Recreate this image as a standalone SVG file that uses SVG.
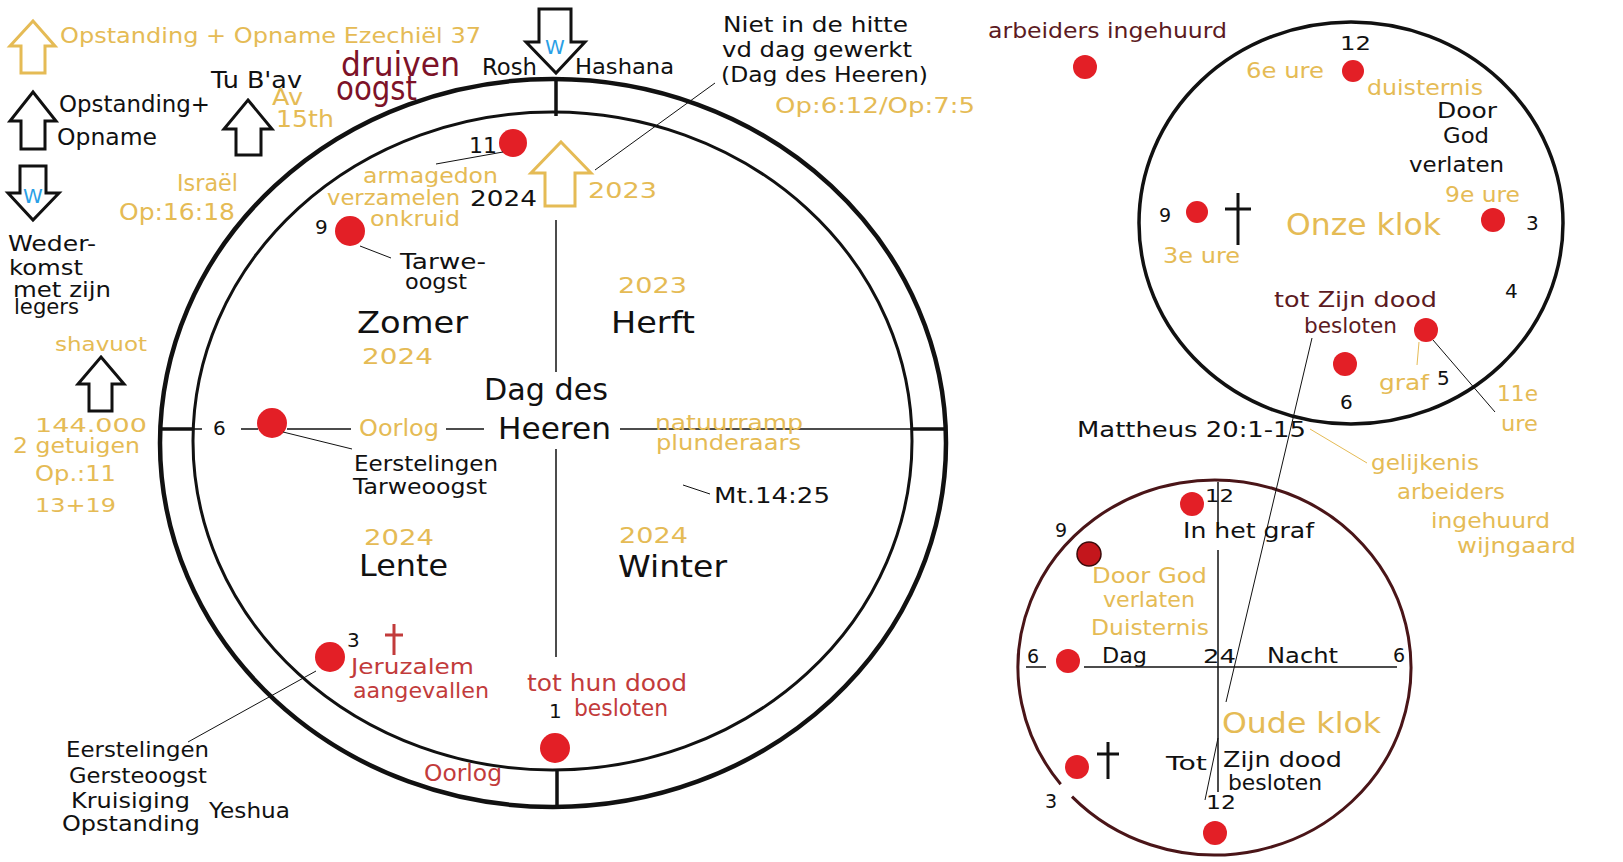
<svg xmlns="http://www.w3.org/2000/svg" width="1623" height="862" viewBox="0 0 1623 862">
<style>
text{font-family:"DejaVu Sans","Liberation Sans",sans-serif;font-size:22px;}
.k{fill:#111;}
.y{fill:#e5bb55;}
.m{fill:#7d1228;}
.m2{fill:#5c1a22;}
.r{fill:#c23b3b;}
.b{fill:#2a9fe6;}
.big{font-size:30px;}
.dot{fill:#e31f26;}
.thin{stroke:#111;stroke-width:1;fill:none;}
.ythin{stroke:#e5bb55;stroke-width:1;fill:none;}
.axis{stroke:#111;stroke-width:1.5;fill:none;}
.tick{stroke:#111;stroke-width:3.5;fill:none;}
.arrK{fill:#fff;stroke:#111;stroke-width:3;stroke-linejoin:miter;}
.arrY{fill:#fff;stroke:#e5bb55;stroke-width:3;stroke-linejoin:miter;}
.cross{stroke:#111;stroke-width:3;fill:none;}
.rcross{stroke:#c23b3b;stroke-width:3;fill:none;}
</style>
<rect width="1623" height="862" fill="#fff"/>

<!-- legend top-left -->
<g id="legend-ezechiel">
<polygon class="arrY" points="33,21 55,46 45,46 45,73 21,73 21,46 10,46"/>
<text class="y" x="60" y="43" textLength="421" lengthAdjust="spacingAndGlyphs">Opstanding + Opname Ezechiël 37</text>
</g>
<g id="legend-opstanding">
<polygon class="arrK" points="33,92 56,121 45,121 45,149 21,149 21,121 10,121"/>
<text class="k" x="59" y="112" textLength="151" lengthAdjust="spacingAndGlyphs" style="font-size:23px">Opstanding+</text>
<text class="k" x="57" y="145" textLength="100" lengthAdjust="spacingAndGlyphs" style="font-size:23px">Opname</text>
</g>
<g id="legend-wederkomst">
<polygon class="arrK" points="20,166 46,166 46,193 59,193 33,220 8,193 20,193"/>
<text class="b" x="33" y="203" text-anchor="middle" style="font-size:20px">W</text>
<text class="k" x="8" y="251" textLength="88" lengthAdjust="spacingAndGlyphs">Weder-</text>
<text class="k" x="9" y="275" textLength="74" lengthAdjust="spacingAndGlyphs">komst</text>
<text class="k" x="13" y="297" textLength="98" lengthAdjust="spacingAndGlyphs">met zijn</text>
<text class="k" x="14" y="314" textLength="65" lengthAdjust="spacingAndGlyphs">legers</text>
</g>
<g id="tubav">
<text class="k" x="211" y="88" textLength="91" lengthAdjust="spacingAndGlyphs" style="font-size:23px">Tu B'av</text>
<polygon class="arrK" points="248,100 272,129 261,129 261,155 236,155 236,129 224,129"/>
<text class="y" x="272" y="105" textLength="31" lengthAdjust="spacingAndGlyphs" style="font-size:23px">Av</text>
<text class="y" x="276" y="127" textLength="58" lengthAdjust="spacingAndGlyphs" style="font-size:23px">15th</text>
</g>
<g id="druiven">
<text class="m" x="341" y="76" textLength="119" lengthAdjust="spacingAndGlyphs" style="font-size:33px">druiven</text>
<text class="m" x="336" y="100" textLength="81" lengthAdjust="spacingAndGlyphs" style="font-size:33px">oogst</text>
</g>
<g id="israel">
<text class="y" x="177" y="191" textLength="61" lengthAdjust="spacingAndGlyphs" style="font-size:23px">Israël</text>
<text class="y" x="119" y="220" textLength="116" lengthAdjust="spacingAndGlyphs" style="font-size:23px">Op:16:18</text>
</g>
<g id="shavuot">
<text class="y" x="55" y="351" textLength="92" lengthAdjust="spacingAndGlyphs" style="font-size:20px">shavuot</text>
<polygon class="arrK" points="101,357 124,384 112,384 112,411 89,411 89,384 78,384"/>
<text class="y" x="35" y="432" textLength="112" lengthAdjust="spacingAndGlyphs" style="font-size:20px">144.000</text>
<text class="y" x="13" y="453" textLength="127" lengthAdjust="spacingAndGlyphs">2 getuigen</text>
<text class="y" x="35" y="481" textLength="81" lengthAdjust="spacingAndGlyphs">Op.:11</text>
<text class="y" x="35" y="512" textLength="81" lengthAdjust="spacingAndGlyphs" style="font-size:20px">13+19</text>
</g>

<!-- big year clock -->
<g id="year-clock">
<ellipse cx="553" cy="443" rx="393" ry="364" fill="none" stroke="#111" stroke-width="4.5"/>
<ellipse cx="552.5" cy="441" rx="359.5" ry="329" fill="none" stroke="#111" stroke-width="3"/>
<line class="tick" x1="556" y1="79" x2="556" y2="116"/>
<line class="tick" x1="557" y1="770" x2="557" y2="807"/>
<line class="tick" x1="160" y1="429" x2="193" y2="429"/>
<line class="tick" x1="912" y1="429" x2="946" y2="429"/>
<line class="axis" x1="556" y1="220" x2="556" y2="372"/>
<line class="axis" x1="556" y1="449" x2="556" y2="657"/>
<line class="axis" x1="193" y1="429" x2="202" y2="429"/>
<line class="axis" x1="241" y1="429" x2="258" y2="429"/>
<line class="axis" x1="287" y1="429" x2="351" y2="429"/>
<line class="axis" x1="446" y1="429" x2="484" y2="429"/>
<line class="axis" x1="620" y1="429" x2="912" y2="429"/>
</g>
<g id="rosh-hashana">
<polygon class="arrK" points="539,9 571,9 571,42 585,42 556,73 526,42 539,42"/>
<text class="b" x="555" y="54" text-anchor="middle" style="font-size:20px">W</text>
<text class="k" x="482" y="75" textLength="55" lengthAdjust="spacingAndGlyphs" style="font-size:23px">Rosh</text>
<text class="k" x="575" y="74" textLength="99" lengthAdjust="spacingAndGlyphs">Hashana</text>
</g>
<g id="opname-2023">
<polygon class="arrY" points="561,142 591,173 575,173 575,206 545,206 545,173 531,173"/>
<text class="k" x="470" y="206" textLength="67" lengthAdjust="spacingAndGlyphs">2024</text>
<text class="y" x="588" y="198" textLength="69" lengthAdjust="spacingAndGlyphs">2023</text>
</g>
<g id="niet-in-de-hitte">
<text class="k" x="723" y="32" textLength="185" lengthAdjust="spacingAndGlyphs">Niet in de hitte</text>
<text class="k" x="722" y="57" textLength="190" lengthAdjust="spacingAndGlyphs">vd dag gewerkt</text>
<text class="k" x="721" y="82" textLength="207" lengthAdjust="spacingAndGlyphs">(Dag des Heeren)</text>
<text class="y" x="775" y="113" textLength="200" lengthAdjust="spacingAndGlyphs">Op:6:12/Op:7:5</text>
</g>
<g id="point-11">
<circle class="dot" cx="513" cy="143" r="14"/>
<text class="k" x="469" y="153" textLength="28" lengthAdjust="spacingAndGlyphs" style="font-size:21px">11</text>
<text class="y" x="363" y="183" textLength="135" lengthAdjust="spacingAndGlyphs">armagedon</text>
<text class="y" x="327" y="205" textLength="133" lengthAdjust="spacingAndGlyphs">verzamelen</text>
<text class="y" x="370" y="226" textLength="90" lengthAdjust="spacingAndGlyphs">onkruid</text>
</g>
<g id="point-9">
<circle class="dot" cx="350" cy="231" r="15"/>
<text class="k" x="315" y="234" style="font-size:20px">9</text>
<text class="k" x="400" y="269" textLength="86" lengthAdjust="spacingAndGlyphs">Tarwe-</text>
<text class="k" x="405" y="289" textLength="62" lengthAdjust="spacingAndGlyphs">oogst</text>
</g>
<g id="zomer">
<text class="k big" x="357" y="333" textLength="111" lengthAdjust="spacingAndGlyphs">Zomer</text>
<text class="y" x="362" y="364" textLength="71" lengthAdjust="spacingAndGlyphs" style="font-size:21px">2024</text>
</g>
<g id="herft">
<text class="y" x="618" y="293" textLength="69" lengthAdjust="spacingAndGlyphs" style="font-size:21px">2023</text>
<text class="k big" x="611" y="333" textLength="84" lengthAdjust="spacingAndGlyphs">Herft</text>
</g>
<g id="dag-des-heeren">
<text class="k big" x="484" y="400" textLength="124" lengthAdjust="spacingAndGlyphs">Dag des</text>
<text class="k big" x="498" y="439" textLength="113" lengthAdjust="spacingAndGlyphs">Heeren</text>
</g>
<g id="point-6">
<circle class="dot" cx="272" cy="423" r="15"/>
<text class="k" x="213" y="435" style="font-size:20px">6</text>
<text class="y" x="359" y="436" textLength="80" lengthAdjust="spacingAndGlyphs" style="font-size:23px">Oorlog</text>
<text class="k" x="354" y="471" textLength="144" lengthAdjust="spacingAndGlyphs" style="font-size:21px">Eerstelingen</text>
<text class="k" x="353" y="494" textLength="134" lengthAdjust="spacingAndGlyphs" style="font-size:21px">Tarweoogst</text>
</g>
<g id="natuurramp">
<text class="y" x="655" y="430" textLength="148" lengthAdjust="spacingAndGlyphs">natuurramp</text>
<text class="y" x="656" y="450" textLength="145" lengthAdjust="spacingAndGlyphs">plunderaars</text>
</g>
<g id="mt-14-25">
<text class="k" x="714" y="503" textLength="116" lengthAdjust="spacingAndGlyphs" style="font-size:21px">Mt.14:25</text>
</g>
<g id="winter">
<text class="y" x="619" y="543" textLength="69" lengthAdjust="spacingAndGlyphs" style="font-size:21px">2024</text>
<text class="k big" x="618" y="577" textLength="109" lengthAdjust="spacingAndGlyphs">Winter</text>
</g>
<g id="lente">
<text class="y" x="364" y="545" textLength="70" lengthAdjust="spacingAndGlyphs" style="font-size:21px">2024</text>
<text class="k big" x="359" y="576" textLength="89" lengthAdjust="spacingAndGlyphs">Lente</text>
</g>
<g id="point-1">
<circle class="dot" cx="555" cy="748" r="15"/>
<text class="r" x="527" y="691" textLength="160" lengthAdjust="spacingAndGlyphs" style="font-size:23px">tot hun dood</text>
<text class="k" x="549" y="718" style="font-size:20px">1</text>
<text class="r" x="574" y="716" textLength="94" lengthAdjust="spacingAndGlyphs" style="font-size:23px">besloten</text>
<text class="r" x="424" y="781" textLength="78" lengthAdjust="spacingAndGlyphs" style="font-size:23px">Oorlog</text>
</g>
<g id="point-3">
<circle class="dot" cx="330" cy="657" r="15"/>
<text class="k" x="347" y="647" style="font-size:20px">3</text>
<path class="rcross" d="M394 624V655M385 635H403"/>
<text class="r" x="351" y="674" textLength="123" lengthAdjust="spacingAndGlyphs">Jeruzalem</text>
<text class="r" x="353" y="698" textLength="136" lengthAdjust="spacingAndGlyphs">aangevallen</text>
</g>
<g id="eerstelingen-gerst">
<text class="k" x="66" y="757" textLength="143" lengthAdjust="spacingAndGlyphs">Eerstelingen</text>
<text class="k" x="69" y="783" textLength="138" lengthAdjust="spacingAndGlyphs">Gersteoogst</text>
<text class="k" x="71" y="808" textLength="119" lengthAdjust="spacingAndGlyphs">Kruisiging</text>
<text class="k" x="62" y="831" textLength="138" lengthAdjust="spacingAndGlyphs">Opstanding</text>
<text class="k" x="209" y="818" textLength="81" lengthAdjust="spacingAndGlyphs">Yeshua</text>
</g>

<!-- right side -->
<g id="arbeiders-ingehuurd">
<text class="m2" x="988" y="38" textLength="239" lengthAdjust="spacingAndGlyphs">arbeiders ingehuurd</text>
<circle class="dot" cx="1085" cy="67" r="12"/>
</g>
<g id="onze-klok">
<ellipse cx="1351" cy="223" rx="212" ry="201" fill="none" stroke="#111" stroke-width="3.5"/>
<text class="k" x="1340" y="50" textLength="31" lengthAdjust="spacingAndGlyphs" style="font-size:20px">12</text>
<circle class="dot" cx="1353" cy="71" r="11"/>
<text class="y" x="1246" y="78" textLength="78" lengthAdjust="spacingAndGlyphs" style="font-size:21px">6e ure</text>
<text class="y" x="1367" y="95" textLength="116" lengthAdjust="spacingAndGlyphs" style="font-size:21px">duisternis</text>
<text class="k" x="1437" y="118" textLength="60" lengthAdjust="spacingAndGlyphs">Door</text>
<text class="k" x="1443" y="143" textLength="46" lengthAdjust="spacingAndGlyphs">God</text>
<text class="k" x="1409" y="172" textLength="95" lengthAdjust="spacingAndGlyphs">verlaten</text>
<text class="y" x="1445" y="202" textLength="75" lengthAdjust="spacingAndGlyphs" style="font-size:21px">9e ure</text>
<text class="k" x="1159" y="222" style="font-size:19px">9</text>
<circle class="dot" cx="1197" cy="212" r="11"/>
<path class="cross" d="M1238 193V245M1225 209H1251"/>
<text class="y big" x="1286" y="235" textLength="155" lengthAdjust="spacingAndGlyphs">Onze klok</text>
<circle class="dot" cx="1493" cy="220" r="12"/>
<text class="k" x="1526" y="230" style="font-size:20px">3</text>
<text class="y" x="1163" y="263" textLength="77" lengthAdjust="spacingAndGlyphs" style="font-size:21px">3e ure</text>
<text class="k" x="1505" y="298" style="font-size:20px">4</text>
<text class="m2" x="1274" y="307" textLength="163" lengthAdjust="spacingAndGlyphs">tot Zijn dood</text>
<text class="m2" x="1304" y="333" textLength="93" lengthAdjust="spacingAndGlyphs">besloten</text>
<circle class="dot" cx="1426" cy="330" r="12"/>
<circle class="dot" cx="1345" cy="364" r="12"/>
<text class="y" x="1379" y="390" textLength="50" lengthAdjust="spacingAndGlyphs">graf</text>
<text class="k" x="1437" y="385" style="font-size:20px">5</text>
<text class="k" x="1340" y="409" style="font-size:20px">6</text>
<text class="y" x="1497" y="401" textLength="41" lengthAdjust="spacingAndGlyphs" style="font-size:21px">11e</text>
<text class="y" x="1501" y="431" textLength="37" lengthAdjust="spacingAndGlyphs" style="font-size:21px">ure</text>
</g>
<g id="mattheus">
<text class="k" x="1077" y="437" textLength="229" lengthAdjust="spacingAndGlyphs">Mattheus 20:1-15</text>
</g>
<g id="gelijkenis">
<text class="y" x="1371" y="470" textLength="108" lengthAdjust="spacingAndGlyphs">gelijkenis</text>
<text class="y" x="1397" y="499" textLength="108" lengthAdjust="spacingAndGlyphs">arbeiders</text>
<text class="y" x="1431" y="528" textLength="119" lengthAdjust="spacingAndGlyphs">ingehuurd</text>
<text class="y" x="1457" y="553" textLength="119" lengthAdjust="spacingAndGlyphs">wijngaard</text>
</g>
<g id="oude-klok">
<path d="M1072 796.6A196.5 187.5 0 1 0 1060.7 784.2" fill="none" stroke="#4a1518" stroke-width="3"/>
<line class="axis" x1="1218" y1="482" x2="1218" y2="528"/>
<line class="axis" x1="1218" y1="550" x2="1218" y2="792"/>
<line class="axis" x1="1084" y1="667" x2="1397" y2="667"/>
<line class="axis" x1="1026" y1="667" x2="1046" y2="667"/>
<circle class="dot" cx="1192" cy="504" r="12"/>
<text class="k" x="1205" y="502" textLength="29" lengthAdjust="spacingAndGlyphs" style="font-size:18px">12</text>
<text class="k" x="1183" y="538" textLength="131" lengthAdjust="spacingAndGlyphs" style="font-size:21px">In het graf</text>
<text class="k" x="1055" y="537" style="font-size:19px">9</text>
<circle cx="1089" cy="554" r="12" fill="#c4161c" stroke="#3a0a0a" stroke-width="1.5"/>
<text class="y" x="1092" y="583" textLength="115" lengthAdjust="spacingAndGlyphs" style="font-size:21px">Door God</text>
<text class="y" x="1103" y="607" textLength="92" lengthAdjust="spacingAndGlyphs" style="font-size:21px">verlaten</text>
<text class="y" x="1091" y="635" textLength="118" lengthAdjust="spacingAndGlyphs" style="font-size:21px">Duisternis</text>
<text class="k" x="1027" y="663" style="font-size:19px">6</text>
<circle class="dot" cx="1068" cy="661" r="12"/>
<text class="k" x="1102" y="663" textLength="45" lengthAdjust="spacingAndGlyphs" style="font-size:21px">Dag</text>
<text class="k" x="1203" y="663" textLength="33" lengthAdjust="spacingAndGlyphs" style="font-size:20px">24</text>
<text class="k" x="1267" y="663" textLength="71" lengthAdjust="spacingAndGlyphs" style="font-size:21px">Nacht</text>
<text class="k" x="1393" y="662" style="font-size:19px">6</text>
<text class="y" x="1222" y="733" textLength="159" lengthAdjust="spacingAndGlyphs" style="font-size:29px">Oude klok</text>
<circle class="dot" cx="1077" cy="767" r="12"/>
<path class="cross" d="M1108 742V779M1097 754H1119"/>
<text class="k" x="1045" y="808" style="font-size:19px">3</text>
<text class="k" x="1166" y="770" textLength="41" lengthAdjust="spacingAndGlyphs" style="font-size:20px">Tot</text>
<text class="k" x="1223" y="767" textLength="119" lengthAdjust="spacingAndGlyphs" style="font-size:21px">Zijn dood</text>
<text class="k" x="1228" y="790" textLength="94" lengthAdjust="spacingAndGlyphs" style="font-size:21px">besloten</text>
<text class="k" x="1206" y="809" textLength="30" lengthAdjust="spacingAndGlyphs" style="font-size:19px">12</text>
<circle class="dot" cx="1215" cy="833" r="12"/>
</g>

<g id="connectors">
<line class="thin" x1="436" y1="164" x2="503" y2="152"/>
<line class="thin" x1="360" y1="246" x2="391" y2="258"/>
<line class="thin" x1="595" y1="170" x2="715" y2="83"/>
<line class="thin" x1="283" y1="432" x2="352" y2="449"/>
<line class="thin" x1="316" y1="671" x2="188" y2="742"/>
<line class="thin" x1="683" y1="485" x2="710" y2="494"/>
<line class="thin" x1="1433" y1="340" x2="1495" y2="412"/>
<line class="ythin" x1="1419" y1="342" x2="1417" y2="365"/>
<line class="thin" x1="1312" y1="338" x2="1226" y2="702"/>
<line class="thin" x1="1218" y1="738" x2="1205" y2="800"/>
<line class="ythin" x1="1310" y1="429" x2="1367" y2="463"/>
</g>
</svg>
